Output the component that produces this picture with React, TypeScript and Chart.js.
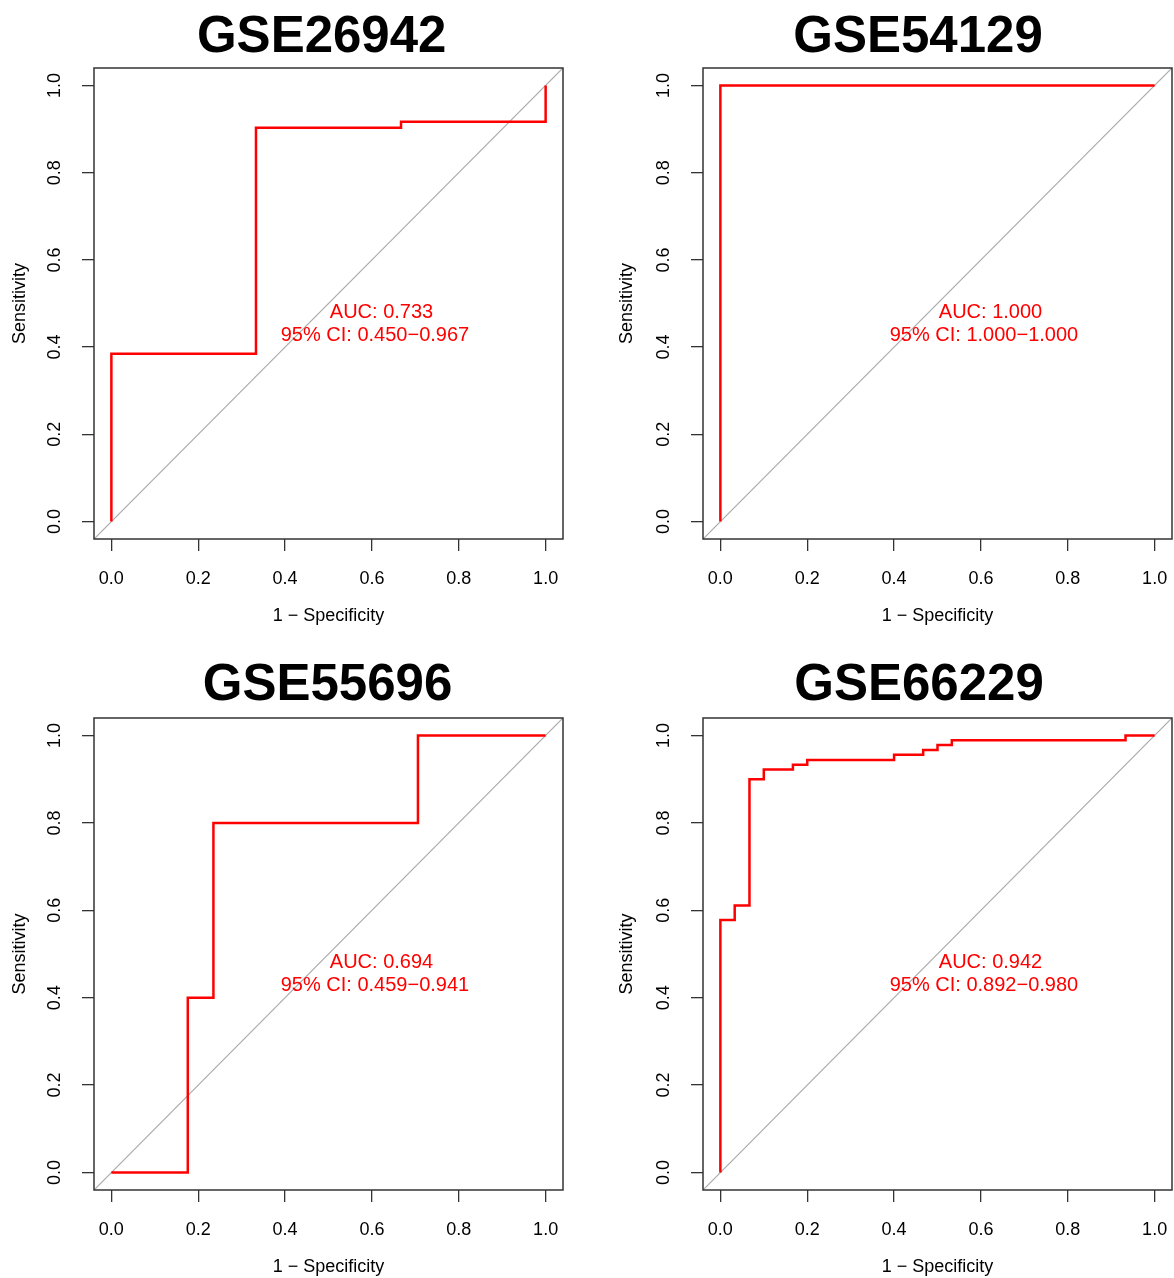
import React, { useEffect, useRef } from "react";
import { Chart, registerables } from "chart.js";

Chart.register(...registerables);

// ---------- data ----------
const TITLES = ["GSE26942", "GSE54129", "GSE55696", "GSE66229"];

const FPR_GSE26942 = [0, 0, 0.333, 0.333, 0.667, 0.667, 1, 1];
const TPR_GSE26942 = [0, 0.385, 0.385, 0.903, 0.903, 0.917, 0.917, 1];

const FPR_GSE54129 = [0, 0, 1];
const TPR_GSE54129 = [0, 1, 1];

const FPR_GSE55696 = [0, 0.176, 0.176, 0.235, 0.235, 0.706, 0.706, 1];
const TPR_GSE55696 = [0, 0, 0.4, 0.4, 0.8, 0.8, 1, 1];

const FPR_GSE66229 = [0, 0, 0.033, 0.033, 0.067, 0.067, 0.1, 0.1, 0.167, 0.167, 0.2, 0.2, 0.4, 0.4, 0.467, 0.467, 0.5, 0.5, 0.533, 0.533, 0.933, 0.933, 1];
const TPR_GSE66229 = [0, 0.578, 0.578, 0.611, 0.611, 0.9, 0.9, 0.922, 0.922, 0.933, 0.933, 0.944, 0.944, 0.956, 0.956, 0.967, 0.967, 0.978, 0.978, 0.989, 0.989, 1, 1];

const AUC_TEXT = ["AUC: 0.733", "AUC: 1.000", "AUC: 0.694", "AUC: 0.942"];
const CI_TEXT = [
  "95% CI: 0.450\u22120.967",
  "95% CI: 1.000\u22121.000",
  "95% CI: 0.459\u22120.941",
  "95% CI: 0.892\u22120.980",
];

const TICK_VALUES = [0, 0.2, 0.4, 0.6, 0.8, 1.0];
const X_LABEL = "1 \u2212 Specificity";
const Y_LABEL = "Sensitivity";

const FPR = [FPR_GSE26942, FPR_GSE54129, FPR_GSE55696, FPR_GSE66229];
const TPR = [TPR_GSE26942, TPR_GSE54129, TPR_GSE55696, TPR_GSE66229];

// ---------- layout / style ----------
const FONT = "'Liberation Sans', Arial, Helvetica, sans-serif";
const LAYOUT = [
  { left: 0, top: 0, w: 587, h: 639, pl: 9, pt: 68, pr: 24, pb: 12, titleX: 321.7, titleBase: 51.5 },
  { left: 609, top: 0, w: 565, h: 639, pl: 7, pt: 68, pr: 2, pb: 12, titleX: 309, titleBase: 51.5 },
  { left: 0, top: 650, w: 587, h: 628, pl: 9, pt: 68, pr: 24, pb: 0, titleX: 327.5, titleBase: 50 },
  { left: 609, top: 650, w: 565, h: 628, pl: 7, pt: 68, pr: 2, pb: 0, titleX: 310, titleBase: 50 },
];
const PLOT_LEFT = 94;
const X_AXIS_HEIGHT = 88;

const rocDecor = {
  id: "rocDecor",
  beforeDatasetsDraw(chart: any) {
    const { ctx, chartArea, scales } = chart;
    const x = scales.x;
    const y = scales.y;
    ctx.save();
    ctx.beginPath();
    ctx.rect(chartArea.left, chartArea.top, chartArea.right - chartArea.left, chartArea.bottom - chartArea.top);
    ctx.clip();
    ctx.strokeStyle = "#aaaaaa";
    ctx.lineWidth = 1.2;
    ctx.beginPath();
    ctx.moveTo(x.getPixelForValue(x.min), y.getPixelForValue(x.min));
    ctx.lineTo(x.getPixelForValue(x.max), y.getPixelForValue(x.max));
    ctx.stroke();
    ctx.restore();
  },
  afterDraw(chart: any, _args: any, opts: any) {
    const { ctx, chartArea, scales } = chart;
    const x = scales.x;
    const y = scales.y;
    ctx.save();
    // box
    ctx.strokeStyle = "#333333";
    ctx.lineWidth = 1.5;
    ctx.strokeRect(chartArea.left, chartArea.top, chartArea.right - chartArea.left, chartArea.bottom - chartArea.top);
    // title
    ctx.fillStyle = "#000000";
    ctx.font = `bold 51px ${FONT}`;
    ctx.textAlign = "center";
    ctx.textBaseline = "alphabetic";
    ctx.fillText(opts.title, opts.titleX, opts.titleBase);
    // AUC text
    ctx.fillStyle = "#ff0000";
    ctx.font = `20px ${FONT}`;
    ctx.textBaseline = "middle";
    ctx.fillText(opts.auc, x.getPixelForValue(opts.aucX), y.getPixelForValue(opts.aucY));
    ctx.fillText(opts.ci, x.getPixelForValue(opts.ciX), y.getPixelForValue(opts.ciY));
    ctx.restore();
  },
};

function axisCommon() {
  return {
    type: "linear" as const,
    min: -0.04,
    max: 1.04,
    afterBuildTicks: (s: any) => {
      s.ticks = TICK_VALUES.map((v) => ({ value: v }));
    },
    border: { display: false },
    grid: {
      drawOnChartArea: false,
      drawTicks: true,
      tickLength: 12,
      color: "#333333",
      lineWidth: 1.3,
    },
  };
}

function RocPanel({ idx }: { idx: number }) {
  const ref = useRef<HTMLCanvasElement | null>(null);
  const L = LAYOUT[idx];
  useEffect(() => {
    if (!ref.current) return;
    const points = FPR[idx].map((fx, i) => ({ x: fx, y: TPR[idx][i] }));
    const chart = new Chart(ref.current, {
      type: "line",
      data: {
        datasets: [
          {
            data: points,
            borderColor: "#ff0000",
            borderWidth: 2.5,
            pointRadius: 0,
            tension: 0,
            fill: false,
          },
        ],
      },
      options: {
        responsive: false,
        animation: false,
        devicePixelRatio: 1,
        layout: { padding: { left: L.pl, top: L.pt, right: L.pr, bottom: L.pb } },
        plugins: {
          legend: { display: false },
          tooltip: { enabled: false },
          title: { display: false },
          rocDecor: {
            title: TITLES[idx],
            titleX: L.titleX,
            titleBase: L.titleBase,
            auc: AUC_TEXT[idx],
            ci: CI_TEXT[idx],
            aucX: 0.622,
            aucY: 0.48,
            ciX: 0.607,
            ciY: 0.427,
          },
        } as any,
        scales: {
          x: {
            ...axisCommon(),
            afterFit: (s: any) => {
              s.height = X_AXIS_HEIGHT;
              s.paddingLeft = 0;
              s.paddingRight = 0;
            },
            ticks: {
              autoSkip: false,
              padding: 17,
              color: "#000000",
              font: { family: FONT, size: 18 },
              maxRotation: 0,
              minRotation: 0,
              callback: (v: any) => Number(v).toFixed(1),
            },
            title: {
              display: true,
              text: X_LABEL,
              color: "#000000",
              font: { family: FONT, size: 18 },
              padding: { top: 0, bottom: 0 },
            },
          },
          y: {
            ...axisCommon(),
            afterFit: (s: any) => {
              s.width = PLOT_LEFT - L.pl;
              s.paddingTop = 0;
              s.paddingBottom = 0;
            },
            ticks: {
              autoSkip: false,
              padding: 14,
              crossAlign: "center",
              minRotation: 90,
              maxRotation: 90,
              color: "#000000",
              font: { family: FONT, size: 18 },
              callback: (v: any) => Number(v).toFixed(1),
            },
            title: {
              display: true,
              text: Y_LABEL,
              color: "#000000",
              font: { family: FONT, size: 18 },
              padding: { top: 0, bottom: 0 },
            },
          },
        } as any,
      },
      plugins: [rocDecor as any],
    });
    return () => chart.destroy();
  }, [idx]);
  return (
    <canvas
      ref={ref}
      width={L.w}
      height={L.h}
      style={{ position: "absolute", left: L.left, top: L.top, display: "block" }}
    />
  );
}

export default function App() {
  return (
    <div
      style={{
        position: "absolute",
        left: 0,
        top: 0,
        width: 1174,
        height: 1278,
        background: "#ffffff",
        overflow: "hidden",
      }}
    >
      {TITLES.map((_, i) => (
        <RocPanel key={i} idx={i} />
      ))}
    </div>
  );
}
